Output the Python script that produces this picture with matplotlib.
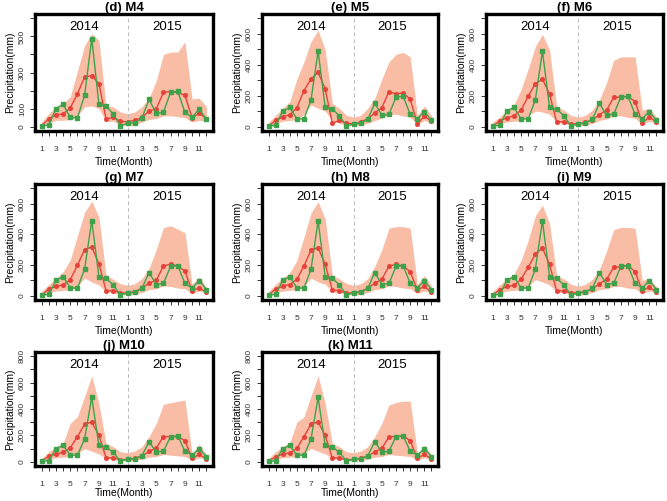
import matplotlib.pyplot as plt
import numpy as np

plt.rcParams['font.family'] = ['Liberation Sans', 'DejaVu Sans']

# months 1..24 (Jan 2014 .. Dec 2015)
months = np.arange(1, 25)
xtick_labels = ['1', '', '3', '', '5', '', '7', '', '9', '', '11', ''] * 2

# observed precipitation (same in every panel)
obs = [5, 8, 100, 124, 51, 49, 173, 488, 124, 113, 71, 5,
       18, 22, 47, 151, 73, 80, 191, 196, 80, 51, 98, 40]

titles = ['(d) M4', '(e) M5', '(f) M6', '(g) M7', '(h) M8',
          '(i) M9', '(j) M10', '(k) M11']
ytops = [600, 700, 700, 700, 700, 700, 800, 800]

# model mean
sim_m4 = [6, 43, 66, 70, 104, 181, 275, 283, 238, 43, 51, 30,
          26, 36, 51, 87, 98, 190, 194, 190, 174, 49, 74, 45]
sim_m5 = [4, 40, 62, 78, 122, 233, 307, 351, 244, 22, 40, 22,
          18, 29, 51, 89, 122, 227, 211, 218, 178, 18, 67, 36]
sim_m6 = [4, 36, 58, 69, 107, 196, 278, 307, 211, 29, 33, 18,
          18, 27, 44, 78, 107, 189, 191, 196, 162, 24, 62, 29]
sim_m7 = [4, 44, 60, 71, 104, 198, 300, 318, 207, 33, 33, 18,
          18, 27, 49, 82, 100, 193, 207, 193, 160, 33, 51, 22]
sim_m8 = [4, 44, 62, 73, 107, 193, 298, 313, 204, 38, 33, 16,
          20, 27, 49, 82, 107, 193, 204, 193, 156, 38, 60, 22]
sim_m9 = [4, 38, 60, 67, 107, 184, 271, 311, 204, 29, 33, 16,
          20, 27, 44, 78, 107, 184, 189, 198, 156, 33, 56, 22]
sim_m10 = [5, 43, 58, 71, 106, 190, 284, 301, 200, 30, 30, 13,
           18, 25, 43, 78, 104, 190, 190, 190, 160, 25, 56, 20]
sim_m11 = [5, 38, 58, 68, 101, 190, 286, 301, 200, 30, 30, 13,
           18, 25, 43, 76, 101, 190, 190, 195, 160, 25, 56, 20]

# ensemble range, upper edge
up_m4 = [25, 72, 110, 128, 166, 308, 449, 515, 477, 113, 110, 81,
         72, 81, 110, 158, 253, 400, 413, 413, 470, 153, 158, 111]
up_m5 = [29, 73, 118, 162, 307, 418, 551, 622, 496, 151, 118, 73,
         62, 73, 118, 184, 307, 418, 467, 480, 451, 73, 133, 73]
up_m6 = [29, 62, 107, 140, 240, 373, 518, 596, 496, 129, 107, 73,
         62, 73, 107, 173, 284, 429, 451, 451, 451, 107, 118, 62]
up_m7 = [27, 73, 111, 156, 233, 389, 544, 616, 511, 133, 107, 78,
         67, 78, 111, 178, 300, 444, 456, 433, 411, 73, 122, 56]
up_m8 = [27, 75, 115, 150, 230, 380, 540, 612, 500, 135, 110, 80,
         67, 78, 111, 190, 300, 440, 450, 450, 440, 73, 133, 60]
up_m9 = [27, 70, 110, 140, 230, 360, 520, 590, 470, 130, 110, 75,
         62, 73, 107, 170, 290, 430, 445, 445, 440, 100, 110, 60]
up_m10 = [25, 76, 114, 139, 291, 342, 494, 651, 440, 139, 114, 76,
          68, 81, 114, 190, 291, 435, 448, 458, 468, 63, 132, 56]
up_m11 = [25, 76, 114, 145, 300, 340, 500, 651, 440, 139, 114, 76,
          68, 81, 114, 190, 291, 430, 450, 460, 460, 63, 125, 56]

# ensemble range, lower edge
lo_m4 = [0, 20, 35, 35, 40, 60, 110, 115, 100, 30, 30, 10,
         5, 10, 25, 40, 45, 60, 60, 55, 50, 25, 35, 30]
lo_m5 = [0, 20, 35, 40, 45, 80, 140, 120, 100, 40, 20, 10,
         5, 10, 20, 40, 55, 80, 80, 70, 60, 15, 40, 25]
lo_m6 = [0, 20, 30, 35, 40, 70, 100, 95, 80, 30, 20, 10,
         5, 10, 20, 40, 50, 70, 70, 60, 55, 15, 35, 20]
lo_m7 = [0, 20, 30, 35, 40, 60, 115, 90, 70, 25, 20, 10,
         5, 10, 20, 40, 45, 65, 60, 50, 45, 15, 30, 20]
lo_m8 = [0, 20, 30, 35, 40, 60, 115, 90, 75, 25, 20, 10,
         5, 10, 20, 40, 45, 65, 60, 50, 45, 15, 30, 20]
lo_m9 = [0, 20, 30, 35, 40, 60, 105, 90, 70, 25, 20, 10,
         5, 10, 20, 40, 45, 60, 60, 50, 45, 15, 30, 20]
lo_m10 = [0, 20, 30, 35, 40, 60, 100, 80, 60, 25, 20, 10,
          5, 10, 20, 35, 40, 55, 50, 45, 40, 15, 30, 20]
lo_m11 = [0, 20, 30, 35, 40, 60, 100, 80, 60, 25, 20, 10,
          5, 10, 20, 35, 40, 55, 50, 45, 40, 15, 30, 20]

sims = [sim_m4, sim_m5, sim_m6, sim_m7, sim_m8, sim_m9, sim_m10, sim_m11]
ups = [up_m4, up_m5, up_m6, up_m7, up_m8, up_m9, up_m10, up_m11]
los = [lo_m4, lo_m5, lo_m6, lo_m7, lo_m8, lo_m9, lo_m10, lo_m11]

c_band = '#F9BCA4'
c_sim = '#E5433A'
c_obs = '#3FA24B'

W, H = 667, 501
fig = plt.figure(figsize=(W / 100, H / 100), dpi=100)

# box positions in pixels (left, right) and (top, bottom)
cols = [(35, 213), (262, 438), (486, 663)]
rows = [(14, 131), (184, 300), (352, 466)]

for i in range(8):
    l, r = cols[i % 3]
    t, b = rows[i // 3]
    ax = fig.add_axes([l / W, 1 - b / H, (r - l) / W, (b - t) / H])
    T = ytops[i]

    ax.fill_between(months, los[i], ups[i], color=c_band, lw=0, zorder=1)
    ax.axvline(13, color='#BBBBBB', ls=(0, (4, 3)), lw=0.7, zorder=1.5)
    ax.plot(months, sims[i], color=c_sim, lw=1.0, marker='o', ms=2.6,
            mec=c_sim, zorder=3)
    ax.plot(months, obs, color=c_obs, lw=1.0, marker='s', ms=3.5,
            mec=c_obs, zorder=4)

    ax.text(7, 0.92 * T, '2014', ha='center', va='center', fontsize=9.5)
    ax.text(18.5, 0.92 * T, '2015', ha='center', va='center', fontsize=9.5)

    ax.set_xlim(0.08, 24.92)
    ax.set_ylim(-0.04 * T, 1.04 * T)

    ax.set_xticks(months)
    ax.set_xticklabels(xtick_labels)
    yt = np.arange(0, T + 1, 100)
    ax.set_yticks(yt)
    if T == 600:
        ylabs = [str(v) if v in (0, 100, 300, 500) else '' for v in yt]
    else:
        ylabs = [str(v) if v % 200 == 0 else '' for v in yt]
    ax.set_yticklabels(ylabs)

    ax.tick_params(axis='both', length=3.5, width=0.7, color='#333333',
                   labelsize=6, labelcolor='#333333')
    ax.tick_params(axis='x', pad=7)
    ax.tick_params(axis='y', pad=3, labelrotation=90)
    for lab in ax.get_yticklabels():
        lab.set_va('center')

    for s in ax.spines.values():
        s.set_linewidth(2.4)
        s.set_color('black')

    ax.set_title(titles[i], fontsize=9.5, fontweight='bold', pad=1.5)
    # bottom row: keep the x label inside the figure
    ax.set_xlabel('Time(Month)', fontsize=7.5, labelpad=0 if i >= 6 else 3)
    ax.set_ylabel('Precipitation(mm)', fontsize=7.5, labelpad=3)

plt.savefig('out.png', dpi=100)
